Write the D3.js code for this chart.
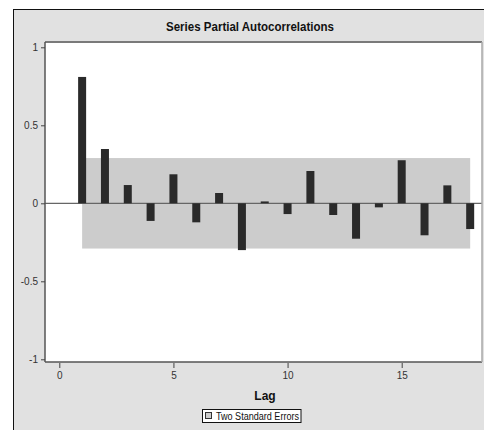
<!DOCTYPE html>
<html>
<head>
<meta charset="utf-8">
<script src="https://cdn.jsdelivr.net/npm/d3@7"></script>
<style>
  html, body { margin: 0; padding: 0; background: #ffffff; }
  svg { display: block; }
  text { font-family: "Liberation Sans", Arial, sans-serif; }
</style>
</head>
<body>
<svg id="chart" width="484" height="430"></svg>
<script>
// Partial autocorrelations by lag
const lags = [1, 2, 3, 4, 5, 6, 7, 8, 9, 10, 11, 12, 13, 14, 15, 16, 17, 18];
const pacf = [0.81, 0.348, 0.117, -0.113, 0.186, -0.122, 0.066, -0.30, 0.012,
              -0.069, 0.207, -0.075, -0.227, -0.026, 0.276, -0.205, 0.115, -0.165];
// Two-standard-error band
const bandLimit = 0.29;
const bandLags = [1, 18];
const xTicks = [0, 5, 10, 15];
const yTicks = [-1, -0.5, 0, 0.5, 1];
const yTickLabels = ["-1", "-0.5", "0", "0.5", "1"];
const titleText = "Series Partial Autocorrelations";
const xLabel = "Lag";
const legendText = "Two Standard Errors";

const svg = d3.select("#chart");

// outer panel
svg.append("rect").attr("x", 13).attr("y", 9).attr("width", 480).attr("height", 430)
  .attr("fill", "#e1e1e1");
svg.append("line").attr("x1", 13).attr("x2", 484).attr("y1", 9.5).attr("y2", 9.5)
  .attr("stroke", "#111").attr("stroke-width", 1);
svg.append("line").attr("x1", 13.5).attr("x2", 13.5).attr("y1", 9).attr("y2", 430)
  .attr("stroke", "#111").attr("stroke-width", 1);

const plot = { left: 45, right: 482, top: 42, bottom: 362 };

const x = d3.scaleLinear().domain([0, 15]).range([59.3, 401.7]);
const y = d3.scaleLinear().domain([-1, 1]).range([359.3, 47.3]);

// plot area
svg.append("rect")
  .attr("x", plot.left).attr("y", plot.top)
  .attr("width", plot.right - plot.left).attr("height", plot.bottom - plot.top)
  .attr("fill", "#ffffff");

// standard error band
svg.append("rect")
  .attr("x", x(bandLags[0])).attr("width", x(bandLags[1]) - x(bandLags[0]))
  .attr("y", y(bandLimit)).attr("height", y(-bandLimit) - y(bandLimit))
  .attr("fill", "#cccccc");

// zero line
svg.append("line")
  .attr("x1", plot.left).attr("x2", plot.right)
  .attr("y1", y(0)).attr("y2", y(0))
  .attr("stroke", "#666").attr("stroke-width", 1.2);

// bars
const barW = 8;
svg.append("g").selectAll("rect").data(lags.map((l, i) => ({ lag: l, v: pacf[i] })))
  .join("rect")
  .attr("x", d => x(d.lag) - barW / 2)
  .attr("width", barW)
  .attr("y", d => Math.min(y(d.v), y(0)))
  .attr("height", d => Math.max(1.5, Math.abs(y(d.v) - y(0))))
  .attr("fill", "#2a2a2a");

// plot border
svg.append("line").attr("x1", plot.left).attr("x2", plot.right)
  .attr("y1", plot.top).attr("y2", plot.top).attr("stroke", "#7a7a7a").attr("stroke-width", 2);
svg.append("line").attr("x1", plot.left).attr("x2", plot.right)
  .attr("y1", plot.bottom).attr("y2", plot.bottom).attr("stroke", "#555").attr("stroke-width", 1.5);
svg.append("line").attr("x1", plot.left).attr("x2", plot.left)
  .attr("y1", plot.top).attr("y2", plot.bottom).attr("stroke", "#555").attr("stroke-width", 1.5);
svg.append("line").attr("x1", plot.right).attr("x2", plot.right)
  .attr("y1", plot.top).attr("y2", plot.bottom).attr("stroke", "#a8a8a8").attr("stroke-width", 1.5);

// y axis
const yAxis = d3.axisLeft(y).tickValues(yTicks).tickSize(4).tickPadding(3)
  .tickFormat((d, i) => yTickLabels[i]);
const gy = svg.append("g").attr("transform", `translate(${plot.left},0)`).call(yAxis);
gy.select(".domain").remove();
gy.selectAll(".tick line").attr("stroke", "#444");
gy.selectAll(".tick text").attr("fill", "#333").style("font-size", "10px")
  .style("font-family", "'Liberation Sans Narrow', 'Liberation Sans', Arial, sans-serif");

// x axis
const xAxis = d3.axisBottom(x).tickValues(xTicks).tickSize(5).tickPadding(4)
  .tickFormat(d3.format("d"));
const gx = svg.append("g").attr("transform", `translate(0,${plot.bottom + 1})`).call(xAxis);
gx.select(".domain").remove();
gx.selectAll(".tick line").attr("stroke", "#444");
gx.selectAll(".tick text").attr("fill", "#333").style("font-size", "10px")
  .style("font-family", "'Liberation Sans Narrow', 'Liberation Sans', Arial, sans-serif");

// title
svg.append("text").attr("x", 250).attr("y", 31).attr("text-anchor", "middle")
  .style("font-size", "12px").style("font-weight", "bold").attr("fill", "#111")
  .attr("textLength", 168).attr("lengthAdjust", "spacingAndGlyphs")
  .text(titleText);

// x label
svg.append("text").attr("x", 265).attr("y", 400).attr("text-anchor", "middle")
  .style("font-size", "12px").style("font-weight", "bold").attr("fill", "#111")
  .text(xLabel);

// legend
const lg = svg.append("g");
lg.append("rect").attr("x", 202.5).attr("y", 409.5).attr("width", 98.5).attr("height", 13)
  .attr("fill", "#ffffff").attr("stroke", "#111").attr("stroke-width", 1);
lg.append("rect").attr("x", 205.5).attr("y", 412.5).attr("width", 6).attr("height", 6)
  .attr("fill", "#cccccc").attr("stroke", "#333").attr("stroke-width", 1);
lg.append("text").attr("x", 216).attr("y", 420).style("font-size", "10px").attr("fill", "#111")
  .attr("textLength", 83).attr("lengthAdjust", "spacingAndGlyphs")
  .text(legendText);
</script>
</body>
</html>
